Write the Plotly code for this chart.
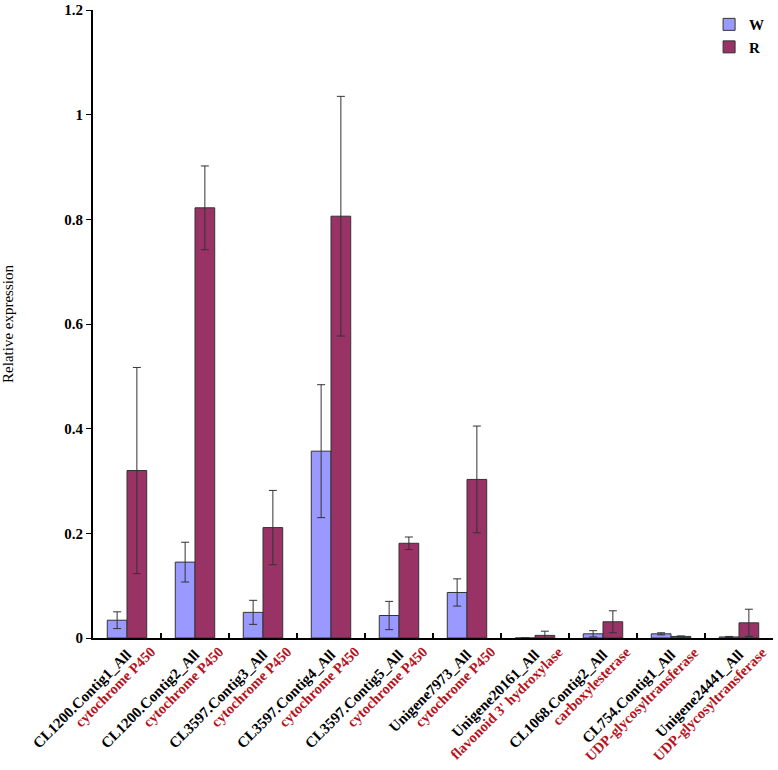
import plotly.graph_objects as go

genes = ["CL1200.Contig1_All", "CL1200.Contig2_All", "CL3597.Contig3_All", "CL3597.Contig4_All",
         "CL3597.Contig5_All", "Unigene7973_All", "Unigene20161_All", "CL1068.Contig2_All",
         "CL754.Contig1_All", "Unigene24441_All"]
annot = ["cytochrome P450", "cytochrome P450", "cytochrome P450", "cytochrome P450",
         "cytochrome P450", "cytochrome P450", "flavonoid 3' hydroxylase", "carboxylesterase",
         "UDP-glycosyltransferase", "UDP-glycosyltransferase"]
w_vals = [0.034, 0.145, 0.049, 0.357, 0.043, 0.087, 0.0, 0.008, 0.008, 0.002]
w_err = [0.016, 0.038, 0.023, 0.127, 0.027, 0.026, 0.0, 0.006, 0.002, 0.001]
r_vals = [0.320, 0.822, 0.211, 0.806, 0.181, 0.303, 0.005, 0.031, 0.003, 0.029]
r_err = [0.197, 0.080, 0.071, 0.229, 0.012, 0.102, 0.008, 0.021, 0.001, 0.026]
y_ticks = [0, 0.2, 0.4, 0.6, 0.8, 1.0, 1.2]
y_tick_text = ["0", "0.2", "0.4", "0.6", "0.8", "1", "1.2"]

serif = "Liberation Serif"
err_style = dict(type="data", thickness=1, width=4, color="#333333")

fig = go.Figure()
fig.add_trace(go.Bar(x=genes, y=w_vals, name="W",
                     marker=dict(color="#9999ff", line=dict(color="#333333", width=1)),
                     error_y=dict(array=w_err, **err_style)))
fig.add_trace(go.Bar(x=genes, y=r_vals, name="R",
                     marker=dict(color="#993366", line=dict(color="#333333", width=1)),
                     error_y=dict(array=r_err, **err_style)))

# second (red) line of each category label
for g, a in zip(genes, annot):
    fig.add_annotation(x=g, y=0, xref="x", yref="y", text=a, showarrow=False,
                       textangle=-45, xanchor="right", yanchor="top",
                       xshift=34, yshift=-3,
                       font=dict(family=serif, size=14.5, color="#b5121b", weight="bold"))

fig.update_layout(
    width=778, height=770,
    margin=dict(l=93, r=5, t=10, b=132),
    paper_bgcolor="white", plot_bgcolor="white",
    barmode="group", bargap=0.42, bargroupgap=0,
    font=dict(family=serif, color="black"),
    legend=dict(x=0.906, y=1.003, xanchor="left", yanchor="top",
                font=dict(family=serif, size=15, color="black", weight="bold"),
                itemwidth=30, tracegroupgap=4, bgcolor="rgba(0,0,0,0)"),
    showlegend=True,
)
fig.update_xaxes(
    automargin=False, range=[-0.5, len(genes) - 0.5],
    showline=True, linecolor="black", linewidth=2,
    ticks="inside", tickson="boundaries", ticklen=5, tickcolor="black", tickwidth=2,
    tickangle=-45, showgrid=False,
    tickfont=dict(family=serif, size=15, color="black", weight="bold"),
)
fig.update_yaxes(
    automargin=False,
    range=[0, 1.2], tickvals=y_ticks, ticktext=y_tick_text,
    showline=True, linecolor="black", linewidth=2,
    ticks="outside", ticklen=5, tickcolor="black", tickwidth=1,
    showgrid=False, zeroline=False, ticklabeloverflow="allow",
    tickfont=dict(family=serif, size=15, color="black", weight="bold"),
    title=dict(text="Relative expression", font=dict(family=serif, size=15, color="black"),
               standoff=53),
)
fig.write_html("out.html", config={"displayModeBar": False},
               post_script="document.body.style.margin='0';")
